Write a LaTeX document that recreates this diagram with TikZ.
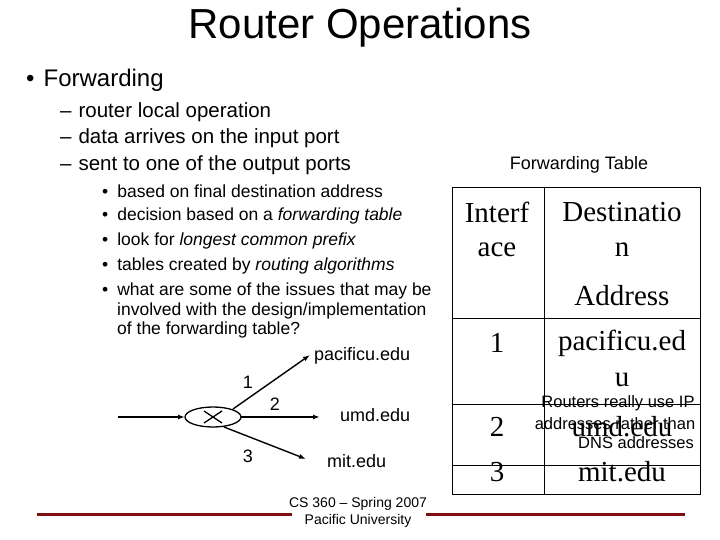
\documentclass[tikz,border=0pt]{standalone}
\usepackage{fontspec}
\setmainfont{Liberation Sans}
\newfontfamily\serifx{Liberation Serif}
\usetikzlibrary{arrows.meta}
\begin{document}
\begin{tikzpicture}[x=1pt,y=-1pt,
 t/.style={anchor=west,inner sep=0pt,font=\fontsize{20.5}{20.5}\selectfont},
 tt/.style={anchor=west,inner sep=0pt,font=\fontsize{17.5}{17.5}\selectfont},
 tab/.style={inner sep=0pt,font=\serifx\fontsize{29}{29}\selectfont},
 lab/.style={inner sep=0pt,font=\fontsize{18}{18}\selectfont},
 note/.style={inner sep=0pt,font=\fontsize{16.5}{16.5}\selectfont},
 arr/.style={-{Latex[length=7pt,width=5pt]},line width=1.4pt}]
\useasboundingbox (0,0) rectangle (720,540);
\node[inner sep=0pt,font=\fontsize{42}{42}\selectfont] (title) at (360,28) {Router Operations};
\node[inner sep=0pt,font=\fontsize{24}{24}\selectfont,anchor=west] (fw) at (26,80) {•\hspace{9pt}Forwarding};
\node[t] (s1) at (60,112) {–\hspace{7pt}router local operation};
\node[t] (s2) at (60,138) {–\hspace{7pt}data arrives on the input port};
\node[t] (s3) at (60,165) {–\hspace{7pt}sent to one of the output ports};
\node[tt] (b1) at (102,191) {•\hspace{9pt}based on final destination address};
\node[tt] (b2) at (102,216) {•\hspace{9pt}decision based on a \textit{forwarding table}};
\node[tt] (b3) at (102,241) {•\hspace{9pt}look for \textit{longest common prefix}};
\node[tt] (b4) at (102,266) {•\hspace{9pt}tables created by \textit{routing algorithms}};
\node[tt] (b5) at (102,291) {•\hspace{9pt}what are some of the issues that may be};
\node[tt] (b6) at (117,311) {involved with the design/implementation};
\node[tt] (b7) at (117,330) {of the forwarding table?};
% router
\draw[line width=1.3pt] (213,417) ellipse (28 and 10);
\draw[line width=1.3pt] (204,411) -- (222,423) (204,423) -- (222,411);
\coordinate (in) at (118,417);
\coordinate (o1) at (233,409);
\coordinate (o2) at (241,417);
\coordinate (o3) at (224,427);
\node[lab,anchor=west] (pu) at (314,356) {pacificu.edu};
\node[lab,anchor=west] (umd) at (340,415) {umd.edu};
\node[lab,anchor=west] (mit) at (327,461) {mit.edu};
\draw[arr] (in) -- (185,417);
\draw[arr] (o1) -- (310,355);
\draw[arr] (o2) -- (320,417);
\draw[arr] (o3) -- (306,459);
\node[lab] (l1) at (248,382) {1};
\node[lab] (l2) at (275,404) {2};
\node[lab] (l3) at (248,456) {3};
% footer
\draw[line width=3pt,color={rgb,255:red,128;green,16;blue,16}] (37,514) -- (292,514) (426,514) -- (685,514);
\node[inner sep=0pt,font=\fontsize{14}{14}\selectfont] (f1) at (358,504) {CS 360 – Spring 2007};
\node[inner sep=0pt,font=\fontsize{14}{14}\selectfont] (f2) at (358,521) {Pacific University};
% table
\node[lab] (ft) at (579,165) {Forwarding Table};
\draw[line width=1pt] (452,188) rectangle (700,494);
\draw[line width=0.8pt] (544,188) -- (544,494) (452,318) -- (700,318) (452,404) -- (700,404) (452,465) -- (700,465);
\node[tab] (h1) at (497,212) {Interf};
\node[tab] (h2) at (497,250) {ace};
\node[tab] (h3) at (622,212) {Destinatio};
\node[tab] (h4) at (622,250) {n};
\node[tab] (h5) at (622,296) {Address};
\node[tab] (c1) at (497,343) {1};
\node[tab] (d1) at (622,343) {pacificu.ed};
\node[tab] (d1b) at (622,380) {u};
\node[tab] (c2) at (497,427) {2};
\node[tab] (d2) at (622,427) {umd.edu};
\node[tab] (c3) at (497,472) {3};
\node[tab] (d3) at (622,472) {mit.edu};
\node[note] (n1) at (618,403) {Routers really use IP};
\node[note] (n2) at (615,424) {addresses rather than};
\node[note] (n3) at (636,443) {DNS addresses};
\end{tikzpicture}
\end{document}
